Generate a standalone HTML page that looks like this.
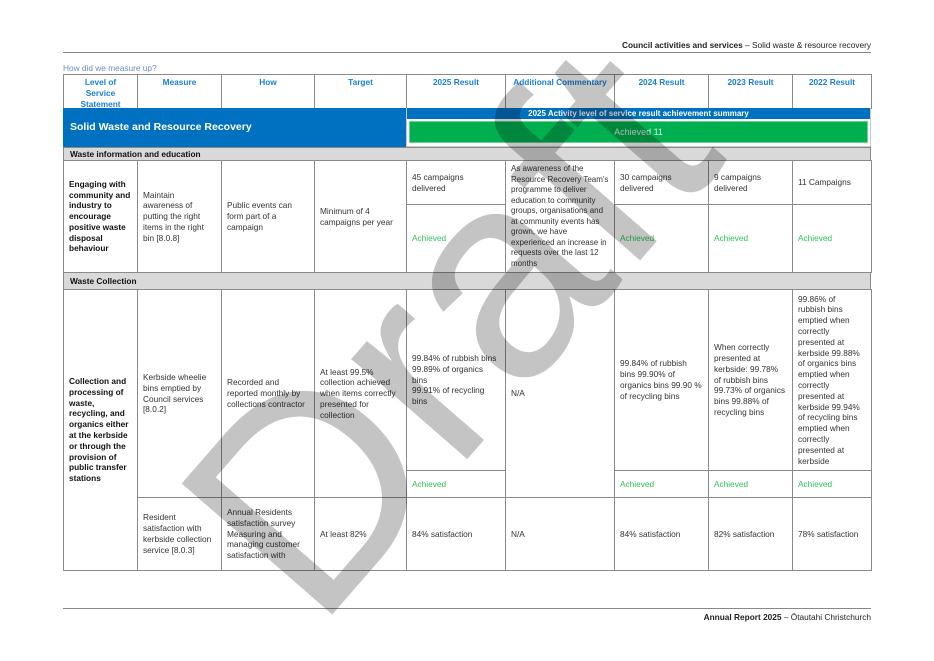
<!DOCTYPE html>
<html><head><meta charset="utf-8"><style>
body{margin:0;width:934px;height:661px;background:#fff;position:relative;overflow:hidden;font-family:"Liberation Sans",sans-serif;color:#333}
.c{position:absolute;box-sizing:border-box;border:1px solid #8a8a8a;font-size:8.3px;line-height:10.8px;padding:0 5px;display:flex;align-items:center}
.h{align-items:flex-start;justify-content:center;text-align:center;color:#1a7fd4;font-weight:bold;padding-top:2px}
.b{font-weight:bold;color:#111}
.g{color:#2ec25a}
.gray{position:absolute;background:#d9d9d9;border:1px solid #8a8a8a;box-sizing:border-box;font-size:8.3px;font-weight:bold;color:#111;padding-left:6px;line-height:12px}
</style></head><body>
<div style="position:absolute;right:63px;top:40px;font-size:8.3px;color:#222"><b>Council activities and services</b> – Solid waste &amp; resource recovery</div>
<div style="position:absolute;left:63px;top:52px;width:808px;border-top:1px solid #888"></div>
<div style="position:absolute;left:63px;top:63px;font-size:8.3px;color:#6a8cc7">How did we measure up?</div>

<div class="c h" style="left:63px;top:74px;width:75px;height:35px;padding:2px 12px 0">Level of Service Statement</div>
<div class="c h" style="left:137px;top:74px;width:85px;height:35px">Measure</div>
<div class="c h" style="left:221px;top:74px;width:94px;height:35px">How</div>
<div class="c h" style="left:314px;top:74px;width:93px;height:35px">Target</div>
<div class="c h" style="left:406px;top:74px;width:100px;height:35px">2025 Result</div>
<div class="c h" style="left:505px;top:74px;width:110px;height:35px">Additional Commentary</div>
<div class="c h" style="left:614px;top:74px;width:95px;height:35px">2024 Result</div>
<div class="c h" style="left:708px;top:74px;width:85px;height:35px">2023 Result</div>
<div class="c h" style="left:792px;top:74px;width:80px;height:35px">2022 Result</div>

<div style="position:absolute;left:63px;top:108px;width:343px;height:39px;background:#0070c0;color:#fff;font-weight:bold;font-size:10.5px;line-height:39px;padding-left:7px;box-sizing:border-box">Solid Waste and Resource Recovery</div>
<div style="position:absolute;left:406px;top:108px;width:465px;height:11px;background:#0070c0;color:#fff;font-weight:bold;font-size:8px;line-height:11px;text-align:center">2025 Activity level of service result achievement summary</div>
<div style="position:absolute;left:409px;top:121px;width:459px;height:22px;background:#00b050;border:1px solid #6fcf8f;box-sizing:border-box;color:#d8f0dc;font-size:9px;line-height:20px;text-align:center">Achieved 11</div>
<div style="position:absolute;left:406px;top:108px;width:465px;height:39px;border:1px solid #c8c8c8;border-top:none;box-sizing:border-box"></div>

<div class="gray" style="left:63px;top:147px;width:808px;height:14px">Waste information and education</div>

<div class="c b" style="left:63px;top:160px;width:75px;height:113px">Engaging with community and industry to encourage positive waste disposal behaviour</div>
<div class="c" style="left:137px;top:160px;width:85px;height:113px;padding-right:12px">Maintain awareness of putting the right items in the right bin [8.0.8]</div>
<div class="c" style="left:221px;top:160px;width:94px;height:113px;padding-right:14px">Public events can form part of a campaign</div>
<div class="c" style="left:314px;top:160px;width:93px;height:113px">Minimum of 4 campaigns per year</div>
<div class="c" style="left:406px;top:160px;width:100px;height:45px">45 campaigns<br>delivered</div>
<div class="c g" style="left:406px;top:204px;width:100px;height:69px">Achieved</div>
<div class="c" style="left:505px;top:160px;width:110px;height:113px;font-size:8px;line-height:10.5px">As awareness of the Resource Recovery Team's programme to deliver education to community groups, organisations and at community events has grown, we have experienced an increase in requests over the last 12 months</div>
<div class="c" style="left:614px;top:160px;width:95px;height:45px">30 campaigns<br>delivered</div>
<div class="c g" style="left:614px;top:204px;width:95px;height:69px">Achieved</div>
<div class="c" style="left:708px;top:160px;width:85px;height:45px">9 campaigns<br>delivered</div>
<div class="c g" style="left:708px;top:204px;width:85px;height:69px">Achieved</div>
<div class="c" style="left:792px;top:160px;width:80px;height:45px">11 Campaigns</div>
<div class="c g" style="left:792px;top:204px;width:80px;height:69px">Achieved</div>

<div class="gray" style="left:63px;top:272px;width:808px;height:18px;line-height:16px">Waste Collection</div>

<div class="c b" style="left:63px;top:289px;width:75px;height:282px">Collection and processing of waste, recycling, and organics either at the kerbside or through the provision of public transfer stations</div>
<div class="c" style="left:137px;top:289px;width:85px;height:209px;padding-right:10px">Kerbside wheelie bins emptied by Council services [8.0.2]</div>
<div class="c" style="left:221px;top:289px;width:94px;height:209px">Recorded and reported monthly by collections contractor</div>
<div class="c" style="left:314px;top:289px;width:93px;height:209px">At least 99.5% collection achieved when items correctly presented for collection</div>
<div class="c" style="left:406px;top:289px;width:100px;height:182px">99.84% of rubbish bins<br>99.89% of organics<br>bins<br>99.91% of recycling<br>bins</div>
<div class="c g" style="left:406px;top:470px;width:100px;height:28px">Achieved</div>
<div class="c" style="left:505px;top:289px;width:110px;height:209px">N/A</div>
<div class="c" style="left:614px;top:289px;width:95px;height:182px">99.84% of rubbish<br>bins 99.90% of<br>organics bins 99.90 %<br>of recycling bins</div>
<div class="c g" style="left:614px;top:470px;width:95px;height:28px">Achieved</div>
<div class="c" style="left:708px;top:289px;width:85px;height:182px">When correctly presented at kerbside: 99.78% of rubbish bins 99.73% of organics bins 99.88% of recycling bins</div>
<div class="c g" style="left:708px;top:470px;width:85px;height:28px">Achieved</div>
<div class="c" style="left:792px;top:289px;width:80px;height:182px;padding-right:10px">99.86% of rubbish bins emptied when correctly presented at kerbside 99.88% of organics bins emptied when correctly presented at kerbside 99.94% of recycling bins emptied when correctly presented at kerbside</div>
<div class="c g" style="left:792px;top:470px;width:80px;height:28px">Achieved</div>

<div class="c" style="left:137px;top:497px;width:85px;height:74px">Resident satisfaction with kerbside collection service [8.0.3]</div>
<div class="c" style="left:221px;top:497px;width:94px;height:74px">Annual Residents satisfaction survey Measuring and managing customer satisfaction with</div>
<div class="c" style="left:314px;top:497px;width:93px;height:74px">At least 82%</div>
<div class="c" style="left:406px;top:497px;width:100px;height:74px">84% satisfaction</div>
<div class="c" style="left:505px;top:497px;width:110px;height:74px">N/A</div>
<div class="c" style="left:614px;top:497px;width:95px;height:74px">84% satisfaction</div>
<div class="c" style="left:708px;top:497px;width:85px;height:74px">82% satisfaction</div>
<div class="c" style="left:792px;top:497px;width:80px;height:74px">78% satisfaction</div>

<div style="position:absolute;left:63px;top:608px;width:808px;border-top:1px solid #888"></div>
<div style="position:absolute;right:63px;top:612px;font-size:8.3px;color:#222"><b>Annual Report 2025</b> – Ōtautahi Christchurch</div>

<svg style="position:absolute;left:0;top:0;mix-blend-mode:multiply" width="934" height="661">
<text x="0" y="0" transform="translate(465,345) rotate(-49)" text-anchor="middle" dominant-baseline="middle" font-family="Liberation Sans, sans-serif" font-size="290" fill="#c4c4c4">Draft</text>
</svg>
</body></html>
